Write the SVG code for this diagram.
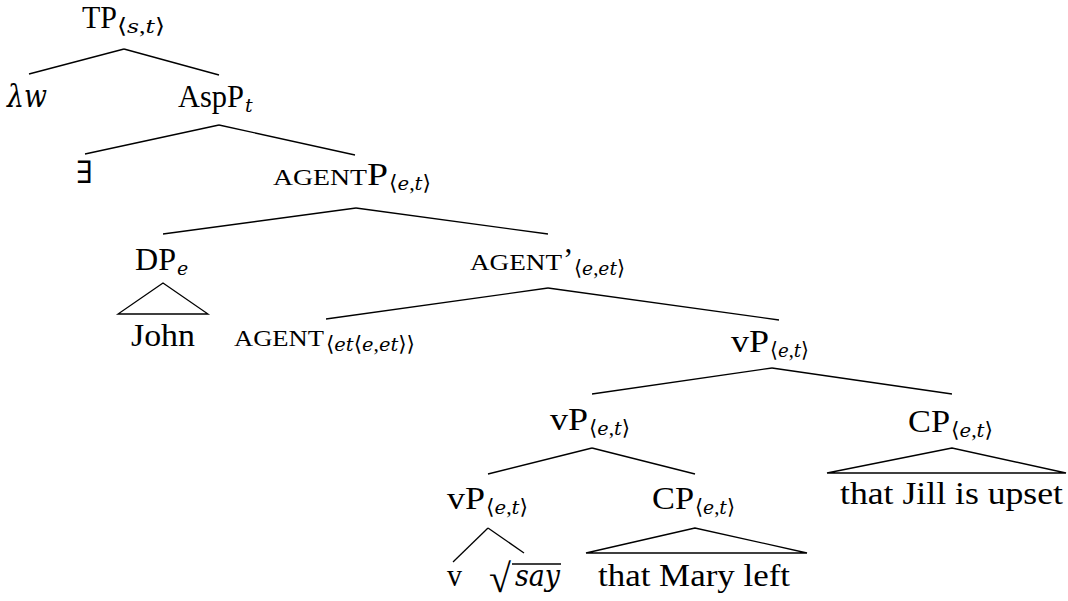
<svg xmlns="http://www.w3.org/2000/svg" width="1068" height="601" viewBox="0 0 1068 601">
<style>
text{font-family:"Liberation Serif","DejaVu Serif",serif;font-size:31px;fill:#000}
.sub{font-size:21px}
.sc{font-size:22.5px}
.i{font-style:italic;font-family:"DejaVu Serif","Liberation Serif",serif}
.sub .i,.sub.i{font-size:19px}
line,polygon{stroke:#000;stroke-width:1.3;fill:none}
</style>
<rect width="1068" height="601" fill="#fff"/>
<g id="connectors">
<line x1="124" y1="49" x2="29" y2="74"/>
<line x1="124" y1="49" x2="219" y2="75"/>
<line x1="219" y1="125" x2="85" y2="154"/>
<line x1="219" y1="125" x2="355" y2="155"/>
<line x1="356" y1="208" x2="163" y2="234"/>
<line x1="356" y1="208" x2="548" y2="234"/>
<polygon points="163,283 118,314 208,314"/>
<line x1="548" y1="288" x2="326" y2="319"/>
<line x1="548" y1="288" x2="779" y2="320"/>
<line x1="772" y1="368" x2="592" y2="394"/>
<line x1="772" y1="368" x2="952" y2="394"/>
<line x1="592" y1="448" x2="488" y2="474"/>
<line x1="592" y1="448" x2="695" y2="474"/>
<polygon points="952,448 827,473 1066,473"/>
<line x1="488" y1="528" x2="453" y2="562"/>
<line x1="488" y1="528" x2="524" y2="553"/>
<polygon points="695,528 586,553 807,553"/>
</g>
<g id="n-tp"><text x="82" y="28" textLength="35" lengthAdjust="spacingAndGlyphs">TP</text><text class="sub" x="117" y="33" textLength="48" lengthAdjust="spacingAndGlyphs">⟨<tspan class="i">s</tspan>,<tspan class="i">t</tspan>⟩</text></g>
<g id="n-lw"><text class="i" x="7" y="107" textLength="40" lengthAdjust="spacingAndGlyphs">λw</text></g>
<g id="n-aspp"><text x="178" y="107" textLength="66" lengthAdjust="spacingAndGlyphs">AspP</text><text class="sub i" x="245" y="112">t</text></g>
<g id="n-exists"><text x="76" y="183">∃</text></g>
<g id="n-agentp"><text class="sc" x="273" y="185" textLength="94" lengthAdjust="spacingAndGlyphs">AGENT</text><text x="367" y="185" textLength="21" lengthAdjust="spacingAndGlyphs">P</text><text class="sub" x="389" y="190" textLength="42" lengthAdjust="spacingAndGlyphs">⟨<tspan class="i">e</tspan>,<tspan class="i">t</tspan>⟩</text></g>
<g id="n-dp"><text x="135" y="270" textLength="41" lengthAdjust="spacingAndGlyphs">DP</text><text class="sub i" x="177" y="275">e</text></g>
<g id="n-john"><text x="131" y="346" textLength="64" lengthAdjust="spacingAndGlyphs">John</text></g>
<g id="n-agentbar"><text class="sc" x="470" y="270" textLength="92" lengthAdjust="spacingAndGlyphs">AGENT</text><text x="563" y="270">’</text><text class="sub" x="574" y="275" textLength="51" lengthAdjust="spacingAndGlyphs">⟨<tspan class="i">e</tspan>,<tspan class="i">et</tspan>⟩</text></g>
<g id="n-agent"><text class="sc" x="234" y="346" textLength="90" lengthAdjust="spacingAndGlyphs">AGENT</text><text class="sub" x="326" y="351" textLength="89" lengthAdjust="spacingAndGlyphs">⟨<tspan class="i">et</tspan>⟨<tspan class="i">e</tspan>,<tspan class="i">et</tspan>⟩⟩</text></g>
<g id="n-vp1"><text x="731" y="352" textLength="38" lengthAdjust="spacingAndGlyphs">vP</text><text class="sub" x="770" y="357" textLength="39" lengthAdjust="spacingAndGlyphs">⟨<tspan class="i">e</tspan>,<tspan class="i">t</tspan>⟩</text></g>
<g id="n-vp2"><text x="550" y="430" textLength="38" lengthAdjust="spacingAndGlyphs">vP</text><text class="sub" x="589" y="435" textLength="41" lengthAdjust="spacingAndGlyphs">⟨<tspan class="i">e</tspan>,<tspan class="i">t</tspan>⟩</text></g>
<g id="n-cp1"><text x="908" y="432" textLength="42" lengthAdjust="spacingAndGlyphs">CP</text><text class="sub" x="951" y="437" textLength="42" lengthAdjust="spacingAndGlyphs">⟨<tspan class="i">e</tspan>,<tspan class="i">t</tspan>⟩</text></g>
<g id="n-jill"><text x="840" y="504" textLength="223" lengthAdjust="spacingAndGlyphs">that Jill is upset</text></g>
<g id="n-vp3"><text x="447" y="509" textLength="38" lengthAdjust="spacingAndGlyphs">vP</text><text class="sub" x="486" y="514" textLength="42" lengthAdjust="spacingAndGlyphs">⟨<tspan class="i">e</tspan>,<tspan class="i">t</tspan>⟩</text></g>
<g id="n-cp2"><text x="652" y="509" textLength="42" lengthAdjust="spacingAndGlyphs">CP</text><text class="sub" x="695" y="514" textLength="40" lengthAdjust="spacingAndGlyphs">⟨<tspan class="i">e</tspan>,<tspan class="i">t</tspan>⟩</text></g>
<g id="n-v"><text x="447" y="586" textLength="15" lengthAdjust="spacingAndGlyphs">v</text></g>
<g id="n-say"><text x="489" y="592" style="font-size:40px">√</text><line x1="512" y1="564" x2="561" y2="564"/><text class="i" x="515" y="586" textLength="45" lengthAdjust="spacingAndGlyphs" style="font-size:29px">say</text></g>
<g id="n-mary"><text x="598" y="586" textLength="192" lengthAdjust="spacingAndGlyphs">that Mary left</text></g>
</svg>
